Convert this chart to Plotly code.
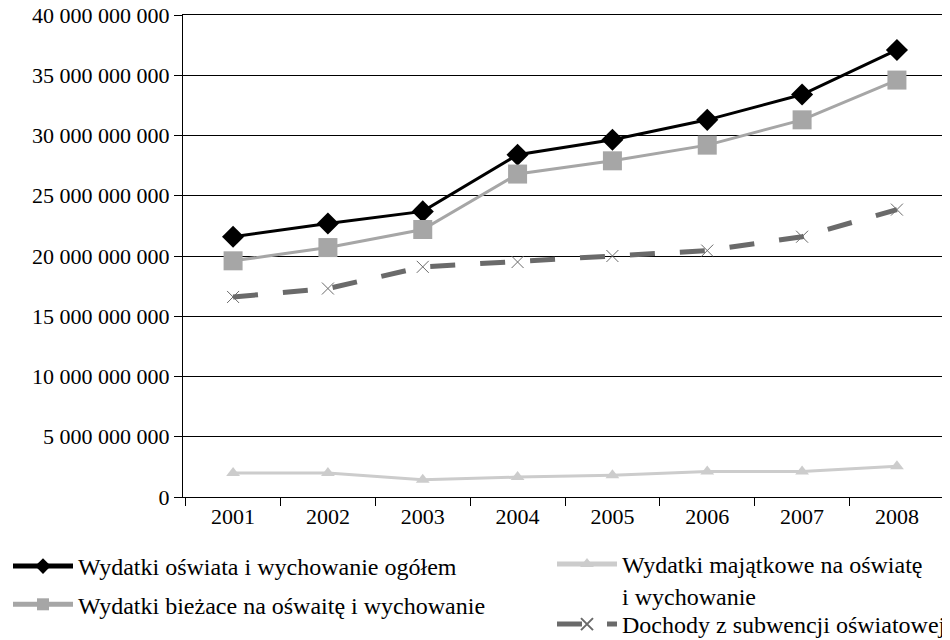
import plotly.graph_objects as go

lata = ['2001', '2002', '2003', '2004', '2005', '2006', '2007', '2008']

wydatki_ogolem = [21.6e9, 22.7e9, 23.7e9, 28.4e9, 29.65e9, 31.3e9, 33.4e9, 37.1e9]
wydatki_biezace = [19.6e9, 20.7e9, 22.2e9, 26.8e9, 27.9e9, 29.2e9, 31.3e9, 34.6e9]
wydatki_majatkowe = [2.0e9, 2.0e9, 1.43e9, 1.65e9, 1.8e9, 2.12e9, 2.12e9, 2.55e9]
dochody_subwencja = [16.6e9, 17.3e9, 19.1e9, 19.5e9, 20.0e9, 20.45e9, 21.6e9, 23.85e9]

font = 'Times New Roman, Liberation Serif, DejaVu Serif, serif'

# strona ma 8 px marginesu body, wiec figura jest mniejsza o 8 px
W, H = 942, 632

fig = go.Figure()

fig.add_trace(go.Scatter(
    x=lata, y=wydatki_ogolem,
    name='Wydatki oświata i wychowanie ogółem',
    mode='lines+markers',
    line=dict(color='black', width=3),
    marker=dict(symbol='diamond', size=17, color='black'),
    legend='legend', legendgroup='a'))

fig.add_trace(go.Scatter(
    x=lata, y=wydatki_biezace,
    name='Wydatki bieżace na ośwaitę i wychowanie',
    mode='lines+markers',
    line=dict(color='#a6a6a6', width=3),
    marker=dict(symbol='square', size=19, color='#a6a6a6'),
    legend='legend', legendgroup='b'))

fig.add_trace(go.Scatter(
    x=lata, y=wydatki_majatkowe,
    name='Wydatki majątkowe na oświatę<br>i wychowanie',
    mode='lines+markers',
    line=dict(color='#cccccc', width=3),
    marker=dict(symbol='triangle-up', size=12, color='#cccccc'),
    legend='legend2'))

fig.add_trace(go.Scatter(
    x=lata, y=dochody_subwencja,
    name='Dochody z subwencji oświatowej',
    mode='lines+markers',
    line=dict(color='#6a6a6a', width=5, dash='longdash'),
    marker=dict(symbol='x-thin', size=12, color='#6a6a6a',
                line=dict(color='#6a6a6a', width=1)),
    legend='legend3'))

leg = dict(xref='container', yref='container', xanchor='left', yanchor='top',
           itemwidth=60, itemsizing='constant', valign='top',
           font=dict(size=24), bgcolor='rgba(0,0,0,0)')

fig.update_layout(
    width=W, height=H,
    margin=dict(l=175, r=3, t=7, b=143, autoexpand=False),
    paper_bgcolor='white',
    plot_bgcolor='white',
    font=dict(family=font, size=22, color='black'),
    separators='. ',
    legend=dict(leg, x=0, y=1 - 536 / H, tracegroupgap=4),
    legend2=dict(leg, x=544 / W, y=1 - 534 / H),
    legend3=dict(leg, x=544 / W, y=1 - 594 / H),
)

fig.update_yaxes(
    range=[0, 40e9], dtick=5e9, tickformat=',d', automargin=False,
    ticklabeloverflow='allow',
    showgrid=True, gridcolor='black', gridwidth=1,
    showline=True, linecolor='black', linewidth=1, mirror=True,
    ticks='outside', ticklen=8, tickcolor='black',
    zeroline=False)

fig.update_xaxes(
    type='category', tickson='boundaries', automargin=False,
    showline=True, linecolor='black', linewidth=1, mirror=True,
    ticks='outside', ticklen=8, tickcolor='black',
    showgrid=False)

fig.write_html('out.html')
